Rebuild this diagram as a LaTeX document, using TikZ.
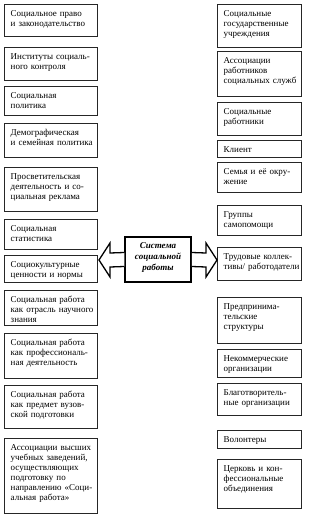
\documentclass[tikz,border=0pt]{standalone}
\usepackage{fontspec}
\setmainfont{Liberation Serif}
\usetikzlibrary{calc}
\tikzset{
  box/.style={draw=black!85, line width=0.8pt, inner sep=0pt, fill=white},
  txt/.style={inner sep=0pt, anchor=base west, align=left,
    font=\fontsize{9}{10}\selectfont},
  cbox/.style={draw=black, line width=1.5pt, inner sep=0pt, fill=white},
  ctxt/.style={inner sep=0pt, align=center,
    font=\fontsize{9}{11}\selectfont\bfseries\itshape},
  barrow/.style={draw=black, line width=1.3pt, fill=white, line join=miter}
}
% name, x1, y1, x2, y2, text width, text
\newcommand\bx[7]{%
  \node[box, minimum width={#4-#2}, minimum height={#5-#3}] (#1) at ({(#2+#4)/2},{(#3+#5)/2}) {};
  \node[txt, text width=#6pt] (#1t) at ({#2+6.5},{#3+12.5}) {#7};
}
\begin{document}
\begin{tikzpicture}[x=1pt,y=-1pt]
\useasboundingbox[fill=white] (0,0) rectangle (309,516);
% left column
\bx{l1}{4}{4}{97}{36}{86}{Социальное право\\и законодательство}
\bx{l2}{4}{47}{97}{80}{86}{Институты социаль-\\ного контроля}
\bx{l3}{4}{86}{97}{115}{86}{Социальная\\политика}
\bx{l4}{4}{123}{97}{157}{86}{Демографическая\\и семейная политика}
\bx{l5}{4}{167}{97}{211}{86}{Просветительская\\деятельность и со-\\циальная реклама}
\bx{l6}{4}{219}{97}{249}{86}{Социальная\\статистика}
\bx{l7}{4}{255}{97}{282}{86}{Социокультурные\\ценности и нормы}
\bx{l8}{4}{290}{97}{325}{86}{Социальная работа\\как отрасль научного\\знания}
\bx{l9}{4}{333}{97}{378}{86}{Социальная работа\\как профессиональ-\\ная деятельность}
\bx{l10}{4}{385}{97}{428}{86}{Социальная работа\\как предмет вузов-\\ской подготовки}
\bx{l11}{4}{438}{97}{513}{86}{Ассоциации высших\\учебных заведений,\\осуществляющих\\подготовку по\\направлению «Соци-\\альная работа»}
% right column
\bx{r1}{217}{4}{301}{47}{80}{Социальные\\государственные\\учреждения}
\bx{r2}{217}{51}{301}{96}{80}{Ассоциации\\работников\\социальных служб}
\bx{r3}{217}{102}{301}{135}{80}{Социальные\\ работники}
\bx{r4}{217}{140}{301}{157}{80}{Клиент}
\bx{r5}{217}{162}{301}{192}{80}{Семья и её окру-\\жение}
\bx{r6}{217}{205}{301}{235}{80}{Группы\\самопомощи}
\bx{r7}{217}{247}{301}{280}{80}{\makebox[75pt][s]{Трудовые коллек-}\\тивы/ работодатели}
\bx{r8}{217}{297}{301}{343}{80}{Предпринима-\\тельские\\структуры}
\bx{r9}{217}{349}{301}{377}{80}{Некоммерческие\\организации}
\bx{r10}{217}{383}{301}{415}{80}{Благотворитель-\\ные организации}
\bx{r11}{217}{430}{301}{448}{80}{Волонтеры}
\bx{r12}{217}{459}{301}{508}{80}{Церковь и кон-\\фессиональные\\объединения}
% centre
\node[cbox, minimum width=66, minimum height=45] (c) at (158,259.5) {};
\node[ctxt] (ct) at (158,257) {Система\\социальной\\работы};
% block arrows
\coordinate (ltip) at (99,260);
\coordinate (rtip) at (217,260);
\draw[barrow] ($(c.west)+(0,-7)$) -- (110,253) -- (110,243) -- (ltip)
  -- (110,277) -- (110,267) -- ($(c.west)+(0,7)$);
\draw[barrow] ($(c.east)+(0,-7)$) -- (206,253) -- (206,243) -- (rtip)
  -- (206,277) -- (206,267) -- ($(c.east)+(0,7)$);
\end{tikzpicture}
\end{document}
